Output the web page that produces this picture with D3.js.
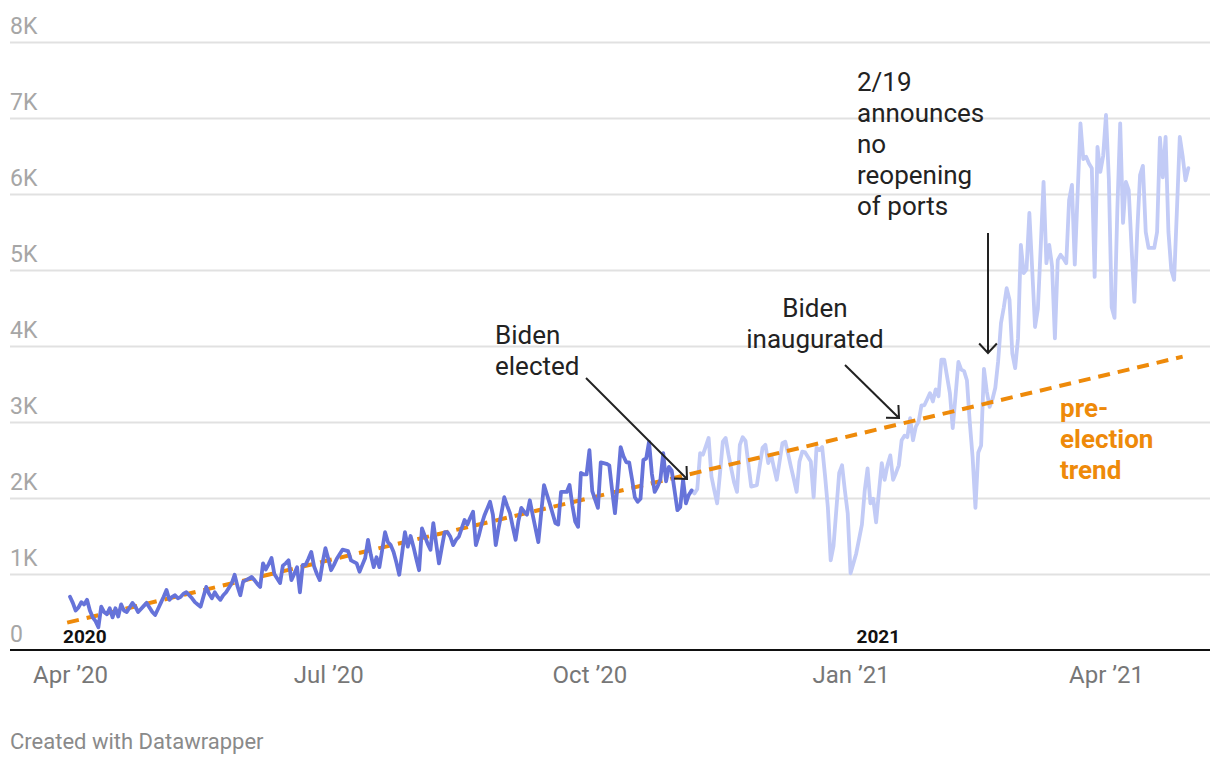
<!DOCTYPE html>
<html lang="en">
  <head>
    <meta charset="UTF-8" />
    <title>Chart</title>
    <script src="https://d3js.org/d3.v7.min.js"></script>
    <style>
      body { margin: 0; background: #fff; font-family: Roboto, sans-serif; }
    </style>
  </head>
  <body>
    <div id="graph"></div>
    <script>
      // daily values, first day 2020-04-01
      const startDate = '2020-04-01'
      const electionIndex = 219 // last day of the dark series
      const values = [
        700, 620, 520, 560, 630, 600, 660, 520, 430, 380, 300, 570, 500, 470, 550, 430, 550, 440, 600, 520,
        500, 560, 620, 570, 500, 540, 580, 620, 560, 500, 460, 540, 620, 700, 790, 660, 700, 720, 680, 700,
        740, 760, 720, 680, 630, 600, 570, 700, 830, 740, 680, 760, 700, 660, 720, 760, 820, 880, 990, 840,
        720, 900, 920, 940, 960, 920, 870, 830, 1140, 1060, 1130, 1210, 1000, 940, 880, 1110, 1140, 1180, 920, 1000,
        1090, 760, 1120, 1120, 1200, 1290, 1100, 1000, 920, 1150, 1340, 1200, 1050, 1120, 1200, 1260, 1320, 1310, 1300, 1180,
        1160, 1140, 1030, 1120, 1210, 1450, 1250, 1090, 1220, 1090, 1320, 1550, 1420, 1380, 1290, 1150, 990, 1270, 1550, 1360,
        1500, 1360, 1200, 1050, 1600, 1500, 1400, 1320, 1670, 1400, 1140, 1350, 1550, 1550, 1490, 1380, 1450, 1490, 1600, 1710,
        1650, 1740, 1820, 1380, 1500, 1650, 1770, 1860, 1950, 1780, 1380, 1600, 1800, 2010, 1900, 1800, 1620, 1450, 1700, 1870,
        1820, 1780, 1970, 1780, 1600, 1420, 1800, 2170, 2050, 1930, 1800, 1670, 1650, 2080, 2080, 2080, 2170, 1900, 1690, 1620,
        2330, 2310, 2310, 2630, 2090, 1980, 1870, 2470, 2460, 2450, 2430, 2100, 1800, 2200, 2670, 2550, 2470, 2470, 2250, 2010,
        1950, 1990, 2500, 2520, 2740, 2320, 2080, 2150, 2240, 2590, 2220, 2410, 2360, 2100, 1840, 1880, 2240, 1930, 2040, 2100,
        2060, 2120, 2590, 2570, 2680, 2790, 2280, 2100, 1930, 2320, 2740, 2790, 2570, 2380, 2200, 2080, 2700, 2800, 2750, 2450,
        2150, 2160, 2170, 2420, 2660, 2700, 2460, 2570, 2400, 2240, 2480, 2720, 2740, 2580, 2410, 2250, 2080, 2480, 2610, 2600,
        2540, 2480, 2010, 2660, 2630, 2670, 2300, 1880, 1180, 1370, 1850, 2330, 2430, 2100, 1800, 1010, 1140, 1270, 1460, 1650,
        2100, 2390, 1930, 1990, 1680, 2080, 2460, 2240, 2430, 2560, 2240, 2330, 2430, 2760, 2820, 2800, 3050, 2760, 2940, 3010,
        3220, 3220, 3300, 3380, 3270, 3430, 3340, 3820, 3820, 3600, 3380, 2920, 3350, 3790, 3690, 3670, 3550, 3000, 2540, 1870,
        2600, 2690, 3700, 3400, 3200, 3300, 3450, 3800, 4300, 4510, 4760, 4610, 3900, 3710, 4100, 5330, 4960, 5010, 5750, 5010,
        4250, 4490, 5300, 6160, 5090, 5330, 5050, 4100, 5130, 5200, 5150, 5090, 5920, 6120, 5070, 6000, 6930, 6460, 6490, 6400,
        6340, 4910, 6620, 6290, 6500, 7040, 6200, 4510, 4370, 5800, 6930, 5620, 6160, 6050, 5300, 4580, 5500, 6250, 6370, 5500,
        5290, 5290, 5290, 5500, 6740, 6220, 6750, 5500, 5000, 4870, 5800, 6750, 6500, 6180, 6340
      ]
      const trendDates = ['2020-03-31', '2021-04-28']
      const trendValues = [360, 3860]
      const yTicks = [0, 1000, 2000, 3000, 4000, 5000, 6000, 7000, 8000]
      const yTickLabels = ['0', '1K', '2K', '3K', '4K', '5K', '6K', '7K', '8K']
      const xTicks = ['2020-04-01', '2020-07-01', '2020-10-01', '2021-01-01', '2021-04-01']
      const xTickLabels = ['Apr ’20', 'Jul ’20', 'Oct ’20', 'Jan ’21', 'Apr ’21']
      const yearLabels = ['2020', '2021']
      const yearDates = ['2020-04-01', '2021-01-01']

      const W = 1220
      const H = 766
      const left = 10
      const right = 1210
      const parse = d3.timeParse('%Y-%m-%d')

      const svg = d3.select('#graph').append('svg').attr('width', W).attr('height', H)

      const x = d3.scaleTime().domain([parse('2020-04-01'), parse('2021-04-01')]).range([70, 1106])
      const y = d3.scaleLinear().domain([0, 8000]).range([650, 42])

      const start = parse(startDate)
      const data = values.map((v, i) => ({ date: d3.timeDay.offset(start, i), value: v }))

      // grid + y labels
      const yAxis = d3.axisLeft(y).tickValues(yTicks).tickSize(-(right - left)).tickFormat((d, i) => yTickLabels[i])
      const gy = svg.append('g').attr('transform', `translate(${left},0)`).call(yAxis)
      gy.select('.domain').remove()
      gy.selectAll('.tick line').attr('stroke', '#e1e1e1').attr('stroke-width', 2).attr('x1', 0).attr('x2', right - left)
      gy.selectAll('.tick text')
        .attr('x', 0).attr('dy', -9).attr('text-anchor', 'start')
        .attr('fill', '#a6a6a6').attr('font-size', 23).attr('font-family', 'Roboto')
      gy.selectAll('.tick').filter((d) => d === 0).select('line').remove()

      // x axis
      const xAxis = d3.axisBottom(x).tickValues(xTicks.map(parse)).tickSize(0).tickFormat((d, i) => xTickLabels[i])
      const gx = svg.append('g').attr('transform', 'translate(0,650)').call(xAxis)
      gx.select('.domain').remove()
      gx.selectAll('.tick text').attr('dy', 0).attr('y', 33).attr('fill', '#777').attr('font-size', 24).attr('font-family', 'Roboto')
      svg.append('line').attr('x1', left).attr('x2', right).attr('y1', 650).attr('y2', 650).attr('stroke', '#111').attr('stroke-width', 2.2)

      // year labels
      svg.selectAll('.year').data(yearLabels).join('text')
        .attr('x', (d, i) => x(parse(yearDates[i])) + (i === 0 ? -7 : 6))
        .attr('y', 643)
        .attr('font-size', 19).attr('font-weight', 700).attr('fill', '#111').attr('font-family', 'Roboto')
        .text((d) => d)

      const line = d3.line().x((d) => x(d.date)).y((d) => y(d.value))

      // light series after the election
      svg.append('path').datum(data.slice(electionIndex))
        .attr('d', line).attr('fill', 'none').attr('stroke', '#c2cbf6').attr('stroke-width', 3.8)
        .attr('stroke-linejoin', 'round').attr('stroke-linecap', 'round')

      // trend
      const trend = trendDates.map((d, i) => ({ date: parse(d), value: trendValues[i] }))
      svg.append('path').datum(trend).attr('d', line).attr('fill', 'none')
        .attr('stroke', '#ee8a0a').attr('stroke-width', 4).attr('stroke-dasharray', '12 8')

      // dark series up to the election
      svg.append('path').datum(data.slice(0, electionIndex + 1))
        .attr('d', line).attr('fill', 'none').attr('stroke', '#6673d9').attr('stroke-width', 3.8)
        .attr('stroke-linejoin', 'round').attr('stroke-linecap', 'round')

      // annotations
      const note = (lines, tx, ty, anchor, color, weight) => {
        const t = svg.append('text').attr('font-size', 26).attr('font-family', 'Roboto')
          .attr('fill', color).attr('font-weight', weight).attr('text-anchor', anchor)
        lines.forEach((l, i) => t.append('tspan').attr('x', tx).attr('y', ty + i * 31).text(l))
      }
      const arrow = (x1, y1, x2, y2) => {
        const a = Math.atan2(y2 - y1, x2 - x1)
        const h = 13
        svg.append('line').attr('x1', x1).attr('y1', y1).attr('x2', x2).attr('y2', y2).attr('stroke', '#222').attr('stroke-width', 2)
        const p = [
          [x2 - h * Math.cos(a - 0.75), y2 - h * Math.sin(a - 0.75)],
          [x2, y2],
          [x2 - h * Math.cos(a + 0.75), y2 - h * Math.sin(a + 0.75)]
        ]
        svg.append('path').attr('d', d3.line()(p)).attr('fill', 'none').attr('stroke', '#222').attr('stroke-width', 2)
      }
      note(['Biden', 'elected'], 495, 344, 'start', '#222', 400)
      arrow(586, 378, 687, 479)
      note(['Biden', 'inaugurated'], 815, 317, 'middle', '#222', 400)
      arrow(845, 365, 899, 418)
      note(['2/19', 'announces', 'no', 'reopening', 'of ports'], 857, 91, 'start', '#222', 400)
      arrow(988, 233, 988, 353)
      note(['pre-', 'election', 'trend'], 1060, 417, 'start', '#ee8a0a', 700)

      // footer
      svg.append('text').attr('x', 10).attr('y', 749).attr('font-size', 22).attr('font-family', 'Roboto')
        .attr('fill', '#8a8a8a').text('Created with Datawrapper')
    </script>
  </body>
</html>
